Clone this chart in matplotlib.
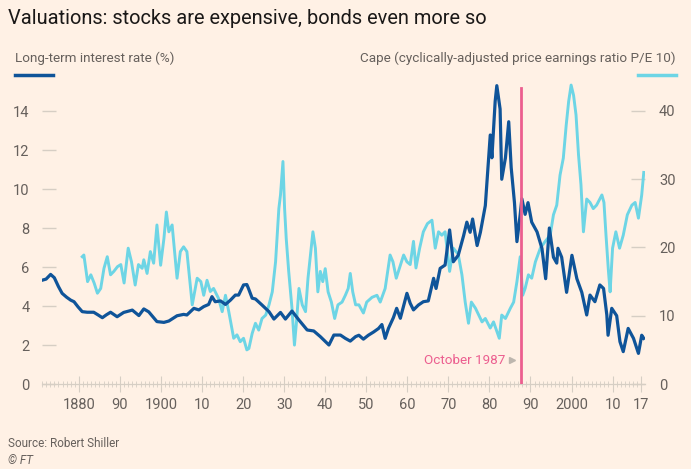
import matplotlib
matplotlib.use("Agg")
import matplotlib.pyplot as plt
import numpy as np

# ---------------- data ----------------
rate_years = [1871.0, 1872.0, 1873.1, 1874.0, 1875.0, 1875.9, 1877.0, 1878.0, 1878.8, 1879.8,
              1880.8, 1882.0, 1883.6, 1884.6, 1885.7, 1886.7, 1887.7, 1889.3, 1890.9, 1893.0,
              1894.6, 1895.8, 1897.0, 1899.0, 1900.7, 1901.9, 1903.9, 1905.5, 1906.3, 1908.0,
              1909.2, 1910.4, 1911.6, 1912.4, 1913.2, 1914.5, 1915.7, 1916.9, 1918.1, 1918.9,
              1920.1, 1920.9, 1921.3, 1922.2, 1923.0, 1924.6, 1926.3, 1927.5, 1929.1, 1930.3,
              1931.9, 1933.6, 1935.6, 1937.2, 1938.8, 1940.9, 1942.1, 1943.7, 1944.9, 1946.1,
              1947.4, 1948.2, 1949.3, 1950.5, 1951.8, 1953.0, 1953.8, 1954.6, 1955.4, 1956.6,
              1957.4, 1958.3, 1959.9, 1960.7, 1961.5, 1962.7, 1963.9, 1965.1, 1966.4, 1967.0,
              1968.0, 1969.2, 1970.3, 1971.2, 1972.4, 1973.7, 1974.5, 1975.3, 1975.9, 1977.0,
              1977.8, 1979.0, 1980.2, 1980.6, 1981.4, 1981.8, 1982.6, 1983.0, 1983.9, 1984.7,
              1985.3, 1986.1, 1986.7, 1987.5, 1987.9, 1988.7, 1989.4, 1990.3, 1991.6, 1992.8,
              1993.7, 1994.6, 1995.6, 1996.4, 1996.7, 1997.6, 1998.8, 2000.1, 2001.3, 2002.5,
              2003.7, 2004.5, 2005.7, 2006.9, 2007.8, 2008.6, 2008.9, 2009.8, 2011.0, 2011.8,
              2012.6, 2013.8, 2015.1, 2016.3, 2017.1, 2017.6]
rate_vals = [5.32, 5.38, 5.62, 5.45, 5.0, 4.65, 4.45, 4.3, 4.22, 3.95,
             3.71, 3.68, 3.68, 3.55, 3.40, 3.55, 3.68, 3.45, 3.67, 3.79,
             3.51, 3.85, 3.7, 3.2, 3.16, 3.23, 3.5, 3.57, 3.54, 3.88,
             3.8, 3.97, 4.08, 4.48, 4.22, 4.26, 4.08, 4.3, 4.56, 4.56,
             5.08, 5.1, 4.9, 4.4, 4.36, 4.05, 3.71, 3.33, 3.67, 3.33,
             3.74, 3.28, 2.77, 2.72, 2.43, 2.0, 2.51, 2.51, 2.34, 2.2,
             2.43, 2.5, 2.3, 2.5, 2.67, 2.85, 3.05, 2.34, 2.85, 3.4,
             3.88, 3.37, 4.65, 4.14, 3.8, 4.05, 4.22, 4.26, 5.42, 4.9,
             5.93, 6.1, 7.9, 6.27, 6.6, 7.6, 8.3, 7.78, 8.46, 7.1,
             7.78, 9.15, 12.77, 11.6, 14.5, 15.3, 14.1, 10.5, 11.6, 13.45,
             11.1, 9.3, 7.3, 8.7, 9.5, 8.7, 9.3, 8.3, 7.8, 6.95,
             5.4, 8.0, 6.5, 6.2, 6.96, 6.5, 4.7, 6.6, 5.4, 4.7,
             3.54, 4.56, 4.22, 5.08, 4.9, 3.54, 2.5, 3.88, 3.5, 2.17,
             1.66, 2.85, 2.34, 1.57, 2.5, 2.34]

cape_years = [1880.8, 1881.2, 1882.1, 1882.9, 1883.7, 1884.5, 1885.3, 1886.1, 1886.9, 1887.7,
              1888.5, 1889.4, 1890.2, 1891.0, 1892.0, 1892.8, 1893.7, 1894.5, 1895.4, 1895.8,
              1896.6, 1897.4, 1898.2, 1899.0, 1899.9, 1900.7, 1901.3, 1901.9, 1902.7, 1903.9,
              1904.7, 1905.5, 1906.3, 1907.6, 1908.8, 1909.7, 1910.4, 1911.2, 1912.0, 1912.8,
              1914.0, 1914.9, 1915.7, 1916.5, 1917.7, 1918.5, 1919.3, 1920.1, 1920.9, 1921.4,
              1922.2, 1923.0, 1923.8, 1924.6, 1925.5, 1926.3, 1927.1, 1927.9, 1928.7, 1929.1,
              1929.7, 1930.1, 1930.5, 1931.1, 1931.9, 1932.5, 1933.0, 1933.6, 1934.4, 1935.2,
              1935.8, 1936.4, 1937.0, 1937.6, 1938.2, 1938.8, 1939.4, 1940.0, 1940.7, 1941.5,
              1942.3, 1943.1, 1944.1, 1944.9, 1945.6, 1946.1, 1946.7, 1947.4, 1948.2, 1949.3,
              1950.1, 1951.4, 1952.6, 1953.4, 1954.6, 1955.8, 1956.5, 1957.3, 1958.1, 1959.1,
              1959.9, 1960.7, 1961.5, 1962.1, 1963.0, 1963.9, 1964.9, 1966.0, 1966.8, 1967.6,
              1968.4, 1969.2, 1970.3, 1971.2, 1972.4, 1973.3, 1974.1, 1974.9, 1975.6, 1976.6,
              1977.4, 1978.2, 1979.0, 1980.2, 1981.0, 1981.8, 1982.4, 1983.0, 1983.9, 1985.1,
              1985.9, 1986.7, 1987.5, 1988.1, 1988.7, 1989.5, 1990.3, 1991.2, 1992.4, 1993.6,
              1994.8, 1995.6, 1996.4, 1997.2, 1998.0, 1998.7, 1999.3, 1999.9, 2000.5, 2001.1,
              2001.7, 2002.3, 2002.9, 2003.7, 2004.5, 2005.3, 2006.1, 2007.4, 2007.9, 2008.4,
              2009.0, 2009.4, 2010.0, 2010.8, 2011.7, 2012.6, 2013.6, 2014.7, 2015.5, 2016.3,
              2017.1, 2017.6]
cape_vals = [18.65, 18.9, 15.0, 16.0, 14.8, 13.3, 14.0, 16.95, 18.65, 16.0,
             16.5, 17.2, 17.5, 14.8, 19.9, 17.9, 14.5, 17.5, 16.95, 18.2,
             16.2, 19.4, 17.7, 23.3, 17.4, 21.3, 25.2, 22.3, 23.3, 15.5,
             19.4, 20.1, 19.4, 11.6, 15.5, 15.0, 13.0, 15.2, 13.55, 14.0,
             12.55, 10.6, 13.0, 10.6, 6.7, 7.2, 6.2, 6.7, 5.0, 5.2,
             7.4, 8.9, 7.9, 9.6, 10.1, 11.6, 13.5, 17.9, 25.7, 27.7,
             32.6, 25.7, 21.3, 16.5, 11.1, 5.7, 9.1, 14.0, 11.6, 10.6,
             15.5, 18.9, 22.3, 19.9, 13.5, 16.5, 15.0, 16.9, 13.5, 12.0,
             9.6, 11.6, 12.0, 13.0, 14.0, 16.2, 13.5, 11.6, 11.6, 10.4,
             12.0, 12.7, 13.0, 12.0, 14.0, 18.9, 17.9, 15.5, 17.0, 18.9,
             17.9, 17.5, 20.9, 17.0, 19.9, 22.3, 23.5, 24.0, 19.9, 22.3,
             21.8, 22.3, 16.5, 19.9, 19.0, 16.0, 12.0, 8.9, 12.0, 11.1,
             10.1, 9.1, 9.6, 8.2, 9.1, 7.7, 6.7, 10.1, 9.6, 11.1,
             12.0, 15.0, 18.65, 13.0, 14.0, 16.0, 15.5, 17.9, 19.9, 20.9,
             21.8, 24.8, 26.2, 30.6, 33.1, 37.9, 41.4, 43.8, 42.3, 39.4,
             33.6, 29.2, 22.3, 27.1, 26.6, 25.7, 26.2, 27.7, 26.6, 21.8,
             16.5, 13.5, 19.9, 22.3, 19.9, 21.8, 24.8, 26.2, 26.6, 24.3,
             27.7, 31.0]

x_ticks = [1880, 1890, 1900, 1910, 1920, 1930, 1940, 1950, 1960, 1970, 1980, 1990, 2000, 2010, 2017]
x_labels = ["1880", "90", "1900", "10", "20", "30", "40", "50", "60", "70", "80", "90", "2000", "10", "17"]
rate_ticks = [0, 2, 4, 6, 8, 10, 12, 14]
cape_ticks = [0, 10, 20, 30, 40]
event_year = 1987.8
event_label = "October 1987"

title = "Valuations: stocks are expensive, bonds even more so"
left_label = "Long-term interest rate (%)"
right_label = "Cape (cyclically-adjusted price earnings ratio P/E 10)"
source = "Source: Robert Shiller"
credit = "© FT"

# ---------------- style ----------------
BG = "#FFF1E5"
DARK = "#0F5499"
LIGHT = "#6DD5E5"
PINK = "#EC5E8F"
GREY = "#66605C"
TICK = "#D6CEC4"
FONT = ["Roboto", "DejaVu Sans"]
plt.rcParams["font.family"] = FONT

W, H = 691, 469
fig = plt.figure(figsize=(W / 100, H / 100), dpi=100, facecolor=BG)

left, right, bottom, top = 42, 645, 384, 81.75
ax = fig.add_axes([left / W, 1 - bottom / H, (right - left) / W, (bottom - top) / H])
ax.set_facecolor(BG)
ax2 = ax.twinx()

rate_max = 15.5
cape_max = rate_max * 40 / 14

# CAPE on base axes (right side), rate on twin (left side, drawn on top)
ax.plot(cape_years, cape_vals, color=LIGHT, lw=2.1, solid_joinstyle="round", zorder=2)
ax2.plot(rate_years, rate_vals, color=DARK, lw=2.3, solid_joinstyle="round", zorder=2)

ax.set_xlim(1871, 2017.9)
ax.set_ylim(0, cape_max)
ax2.set_ylim(0, rate_max)

ax2.axvline(event_year, ymin=0, ymax=15.18 / rate_max, color=PINK, lw=2, zorder=5)
ax2.text(1983.9, 1.23, event_label, color=PINK, fontsize=9.7, ha="right", va="center")
ax2.plot([1985.5], [1.23], marker=">", color="#BDB6AE", markersize=5, ls="none")

for a in (ax, ax2):
    for s in ("top", "left", "right"):
        a.spines[s].set_visible(False)
    a.spines["bottom"].set_color(TICK)
    a.spines["bottom"].set_linewidth(0.8)

ax.yaxis.tick_right()
ax.set_yticks(cape_ticks)
ax.set_yticklabels([str(t) for t in cape_ticks])
ax.tick_params(axis="y", direction="in", length=10, width=1, color=TICK, pad=10,
               labelcolor=GREY, labelsize=10.5)

ax2.yaxis.tick_left()
ax2.set_yticks(rate_ticks)
ax2.set_yticklabels([str(t) for t in rate_ticks])
ax2.tick_params(axis="y", direction="in", length=10, width=1, color=TICK, pad=9,
                labelcolor=GREY, labelsize=10.5)

ax.set_xticks(x_ticks)
ax.set_xticklabels(x_labels)
ax.set_xticks(np.arange(1871, 2018), minor=True)
ax.tick_params(axis="x", which="major", direction="inout", length=12, width=0.8, color=TICK,
               pad=4, labelcolor=GREY, labelsize=10.5)
ax.tick_params(axis="x", which="minor", direction="inout", length=4, width=0.6, color=TICK)
ax2.tick_params(axis="x", which="both", bottom=False, labelbottom=False)

# titles / labels
fig.text(8 / W, 1 - 18 / H, title, fontsize=14.4, color="#1A1817", ha="left", va="center")
fig.text(15 / W, 1 - 58 / H, left_label, fontsize=9.7, color=GREY, ha="left", va="center")
fig.text(676 / W, 1 - 58 / H, right_label, fontsize=9.7, color=GREY, ha="right", va="center")
fig.add_artist(plt.Line2D([15 / W, 53 / W], [1 - 75 / H] * 2, color=DARK, lw=2.5))
fig.add_artist(plt.Line2D([638 / W, 676 / W], [1 - 75 / H] * 2, color=LIGHT, lw=2.5))
fig.text(8 / W, 1 - 443 / H, source, fontsize=8.5, color=GREY, ha="left", va="center")
fig.text(8 / W, 1 - 460 / H, credit, fontsize=8.5, color=GREY, ha="left", va="center",
         style="italic")

fig.savefig("out.png", dpi=100, facecolor=BG)
